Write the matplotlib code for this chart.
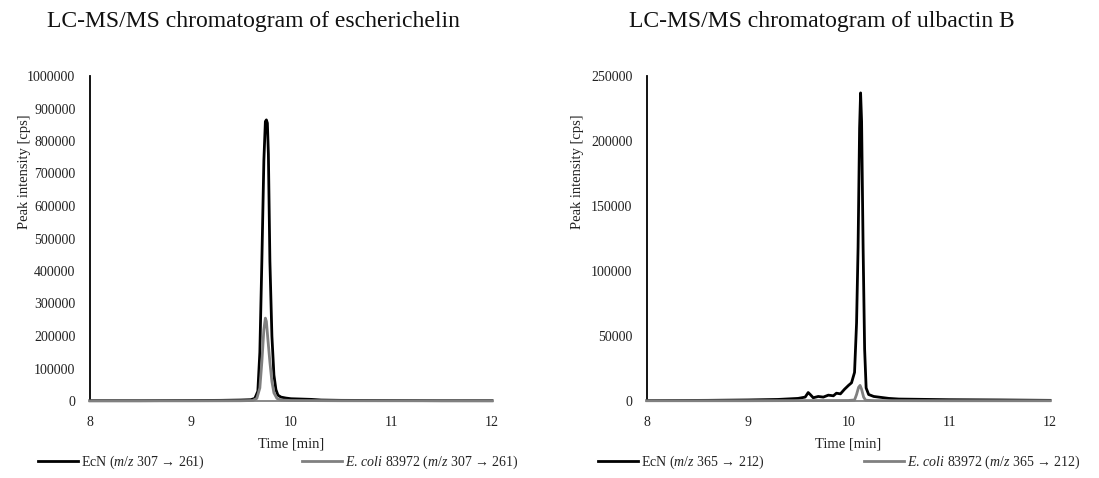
import matplotlib
matplotlib.use("Agg")
import matplotlib.pyplot as plt
from matplotlib.lines import Line2D

plt.rcParams['font.family'] = ['Liberation Serif', 'DejaVu Serif']
plt.rcParams['mathtext.fontset'] = 'custom'
plt.rcParams['mathtext.rm'] = 'Liberation Serif'
plt.rcParams['mathtext.it'] = 'Liberation Serif:italic'

# ---------------- data ----------------
titles = ["LC-MS/MS chromatogram of escherichelin", "LC-MS/MS chromatogram of ulbactin B"]
xticks = [8, 9, 10, 11, 12]
yticks_esc = [0, 100000, 200000, 300000, 400000, 500000, 600000, 700000, 800000, 900000, 1000000]
yticks_ulb = [0, 50000, 100000, 150000, 200000, 250000]

esc_ecn_t = [8.0, 8.5, 9.0, 9.3, 9.5, 9.6, 9.64, 9.67, 9.69, 9.71, 9.73, 9.745, 9.755, 9.765,
             9.775, 9.79, 9.81, 9.83, 9.85, 9.87, 9.9, 9.95, 10.0, 10.1, 10.2, 10.3, 10.5, 11.0, 11.5, 12.0]
esc_ecn_v = [1000, 1000, 1500, 2000, 3000, 4000, 8000, 30000, 150000, 430000, 740000, 860000, 865000, 855000,
             760000, 430000, 200000, 80000, 35000, 18000, 12000, 9000, 7000, 6000, 5000, 3000, 2000, 1500, 1000, 1000]

esc_ec_t = [8.0, 9.0, 9.5, 9.62, 9.66, 9.69, 9.71, 9.73, 9.745, 9.755, 9.77, 9.79, 9.81, 9.83, 9.86, 9.9, 10.0, 10.5, 12.0]
esc_ec_v = [500, 500, 800, 1500, 8000, 40000, 120000, 220000, 255000, 245000, 190000, 120000, 60000, 25000, 8000, 3000, 1500, 800, 500]

ulb_ecn_t = [8.0, 8.3, 8.6, 9.0, 9.3, 9.5, 9.57, 9.6, 9.62, 9.65, 9.7, 9.75, 9.8, 9.85, 9.88, 9.92, 9.96,
             10.0, 10.03, 10.06, 10.08, 10.095, 10.11, 10.12, 10.13, 10.145, 10.16, 10.175, 10.2, 10.25, 10.3,
             10.4, 10.5, 11.0, 11.5, 12.0]
ulb_ecn_v = [300, 400, 500, 800, 1200, 2000, 3000, 6500, 5000, 2500, 3500, 3000, 4500, 4000, 6000, 5500, 9000,
             12000, 14000, 22000, 60000, 118000, 210000, 237000, 215000, 118000, 40000, 10000, 5000, 3500, 3000,
             2000, 1500, 1000, 800, 500]

ulb_ec_t = [8.0, 9.0, 9.5, 10.0, 10.06, 10.08, 10.1, 10.115, 10.13, 10.15, 10.17, 10.25, 11.0, 12.0]
ulb_ec_v = [200, 200, 300, 400, 800, 5000, 10500, 12000, 9000, 3000, 600, 300, 200, 200]

labels_esc = [r"EcN ($\mathit{m/z}$ 307 → 261)", r"$\mathit{E.\,coli}$ 83972 ($\mathit{m/z}$ 307 → 261)"]
labels_ulb = [r"EcN ($\mathit{m/z}$ 365 → 212)", r"$\mathit{E.\,coli}$ 83972 ($\mathit{m/z}$ 365 → 212)"]

BLACK = '#000000'
GREY = '#808080'

W, H = 1099, 478
fig = plt.figure(figsize=(W / 100, H / 100), dpi=100)

def px_axes(x0, x1, y_top, y_bot):
    return fig.add_axes([x0 / W, 1 - y_bot / H, (x1 - x0) / W, (y_bot - y_top) / H])

panels = [
    dict(box=(90, 492, 76, 401), title=titles[0], t1=esc_ecn_t, v1=esc_ecn_v, t2=esc_ec_t, v2=esc_ec_v,
         yt=yticks_esc, labels=labels_esc, tx=253, ylab_x=-0.147, leg_x=38, colsp=7.0),
    dict(box=(647, 1050, 76, 401), title=titles[1], t1=ulb_ecn_t, v1=ulb_ecn_v, t2=ulb_ec_t, v2=ulb_ec_v,
         yt=yticks_ulb, labels=labels_ulb, tx=822, ylab_x=-0.157, leg_x=598, colsp=7.1),
]

for p in panels:
    ax = px_axes(*p['box'])
    ax.plot(p['t1'], p['v1'], color=BLACK, lw=2.0, zorder=3, clip_on=False)
    ax.plot(p['t2'], p['v2'], color=GREY, lw=2.0, zorder=4, clip_on=False)
    ax.set_xlim(8, 12)
    ax.set_ylim(0, p['yt'][-1])
    ax.set_xticks(xticks)
    ax.set_yticks(p['yt'])
    ax.set_yticklabels([str(v) for v in p['yt']])
    ax.tick_params(length=0, labelsize=10, colors='#222222')
    ax.tick_params(axis='y', pad=10.5)
    ax.tick_params(axis='x', pad=11)
    for s in ['top', 'right']:
        ax.spines[s].set_visible(False)
    ax.spines['left'].set_color('#000000')
    ax.spines['left'].set_linewidth(1.3)
    ax.spines['bottom'].set_color(GREY)
    ax.spines['bottom'].set_linewidth(1.3)
    ax.set_xlabel("Time [min]", fontsize=10.5, labelpad=6, color='#222222')
    ax.set_ylabel("Peak intensity [cps]", fontsize=10.5, color='#222222')
    ax.yaxis.set_label_coords(p['ylab_x'], 0.705)
    fig.text(p['tx'] / W, 1 - 22 / H, p['title'], ha='center', va='center', fontsize=17, color='#111111')
    handles = [Line2D([], [], color=BLACK, lw=2.0), Line2D([], [], color=GREY, lw=2.0)]
    ax.legend(handles, p['labels'], loc='center left', bbox_to_anchor=(p['leg_x'] / W, 1 - 462 / H),
              bbox_transform=fig.transFigure, ncol=2, frameon=False, fontsize=10,
              handlelength=2.9, handletextpad=0.2, columnspacing=p['colsp'],
              borderaxespad=0, borderpad=0, labelcolor='#222222')

fig.savefig("out.png", dpi=100)
